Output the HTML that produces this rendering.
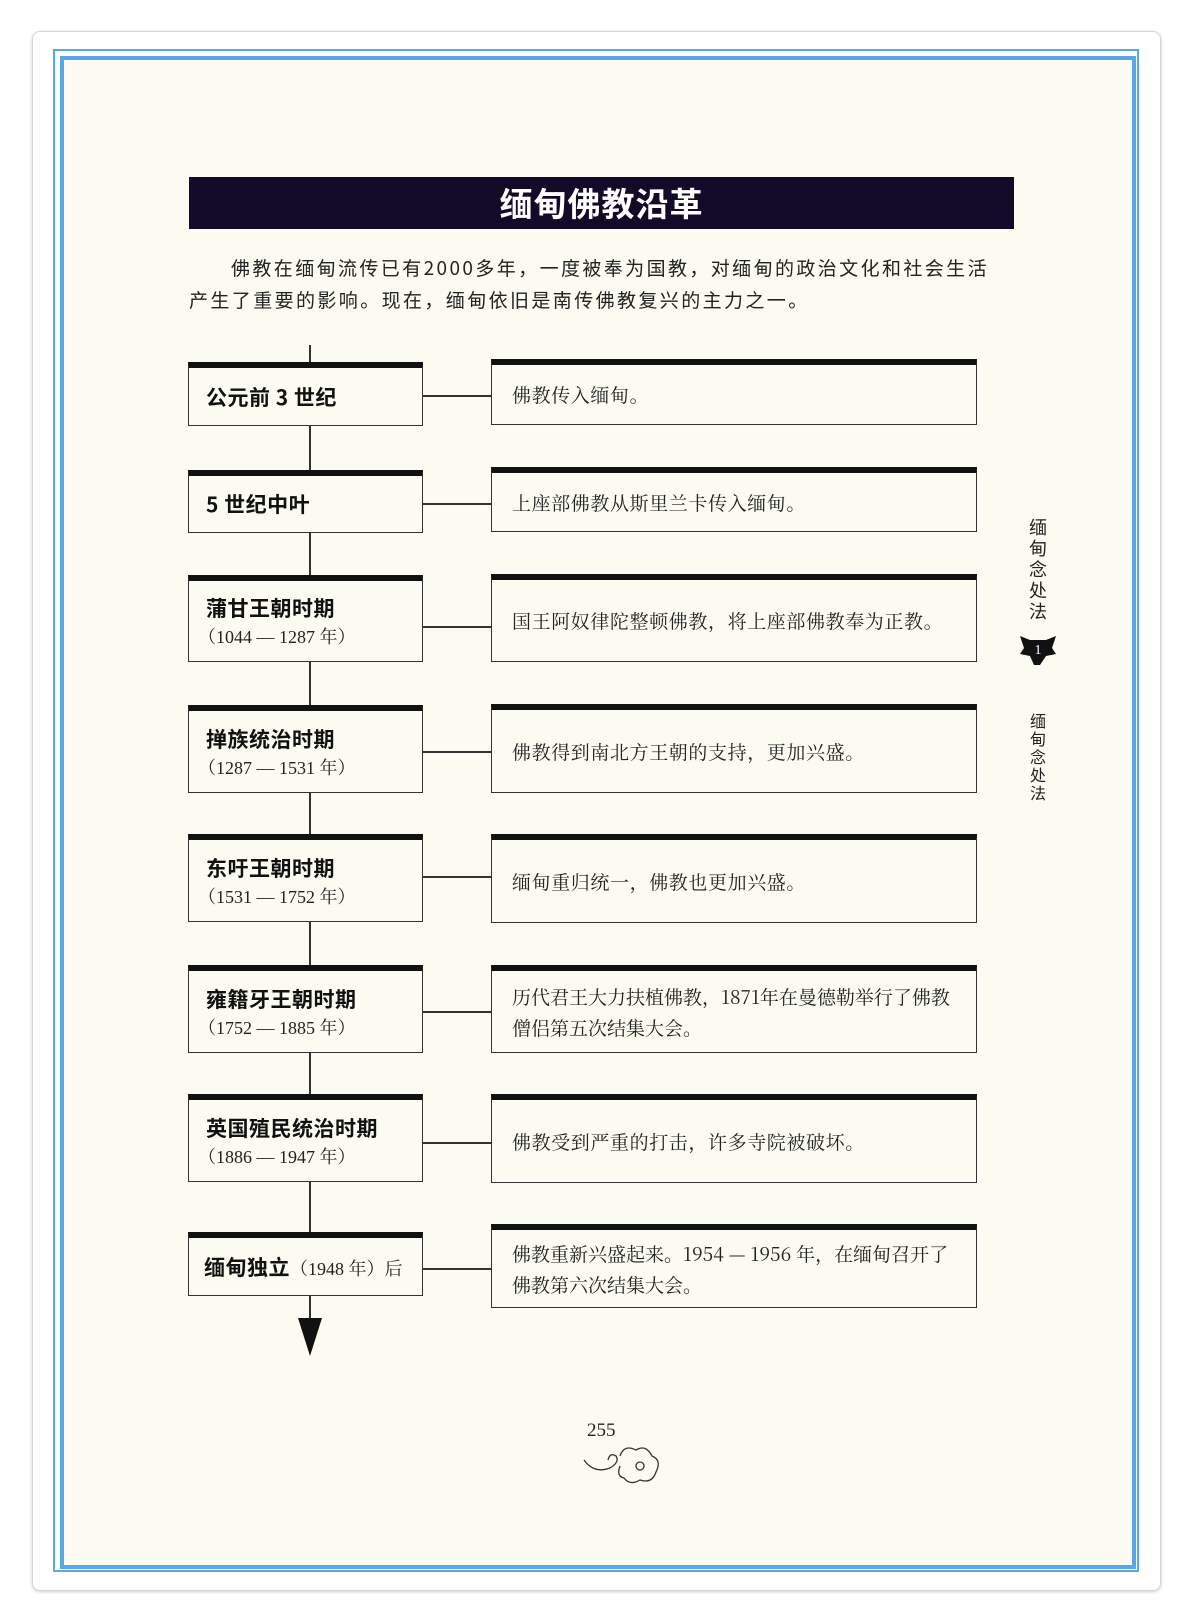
<!DOCTYPE html>
<html><head><meta charset="utf-8"><style>
body{margin:0;width:1188px;height:1622px;background:#fff;position:relative;overflow:hidden;font-family:"Liberation Sans","Noto Sans CJK SC",sans-serif}
.a{position:absolute}
.card{left:32px;top:31px;width:1127px;height:1558px;border:1px solid #d4d4d4;border-radius:8px;box-shadow:0 1px 3px rgba(0,0,0,.2)}
.b1{left:53px;top:49px;width:1082px;height:1519px;border:2px solid #5aa6e6}
.b2{left:60px;top:56px;width:1068px;height:1505px;border:4px solid #5aa6e6;background:#fbfbf1}
.ban{left:189px;top:177px;width:825px;height:52px;background:#120a28;color:#fff;font-weight:bold;font-size:33px;text-align:center;line-height:50px;font-family:"Noto Sans CJK SC",sans-serif;letter-spacing:1px}
.intro{left:189px;width:820px;font-size:19px;color:#222;font-family:"Noto Sans CJK SC",sans-serif;letter-spacing:2.4px;white-space:nowrap}
.L{position:absolute;left:188px;width:235px;border:1.5px solid #333;border-top:6px solid #111;background:#fbfbf1;box-sizing:border-box;padding-left:17px}
.R{position:absolute;left:491px;width:486px;border:1.5px solid #333;border-top:6px solid #111;background:#fbfbf1;box-sizing:border-box;padding-left:20px;font-family:"Noto Serif CJK SC",serif;font-size:19px;letter-spacing:0.6px;color:#222;display:flex;align-items:center;line-height:31px;white-space:nowrap}
.t{font-weight:bold;font-size:21px;letter-spacing:0.5px;color:#111;font-family:"Noto Sans CJK SC",sans-serif}
.d{font-family:"Liberation Serif","Noto Serif CJK SC",serif;font-size:18px;color:#222;margin-left:-8px}
.L.c{display:flex;flex-direction:column;justify-content:center}
.hl{position:absolute;height:1.5px;background:#333;left:423px;width:68px}
.side{left:1028px;width:20px;font-size:18px;line-height:21px;color:#222;text-align:center;font-family:"Noto Sans CJK SC",sans-serif}
</style></head><body>
<div class="a card"></div>
<div class="a b1"></div>
<div class="a b2"></div>
<div class="a ban">缅甸佛教沿革</div>
<div class="a intro" style="top:254px;text-indent:42px">佛教在缅甸流传已有2000多年，一度被奉为国教，对缅甸的政治文化和社会生活</div>
<div class="a intro" style="top:286px">产生了重要的影响。现在，缅甸依旧是南传佛教复兴的主力之一。</div>

<div class="a" style="left:309px;top:345px;width:1.5px;height:975px;background:#333"></div>

<div class="L c" style="top:362px;height:64px"><div class="t">公元前 3 世纪</div></div>
<div class="R" style="top:359px;height:66px">佛教传入缅甸。</div>
<div class="hl" style="top:395px"></div>

<div class="L c" style="top:470px;height:63px"><div class="t">5 世纪中叶</div></div>
<div class="R" style="top:467px;height:65px">上座部佛教从斯里兰卡传入缅甸。</div>
<div class="hl" style="top:503px"></div>

<div class="L c" style="top:575px;height:87px"><div class="t">蒲甘王朝时期</div><div class="d">（1044 — 1287 年）</div></div>
<div class="R" style="top:574px;height:88px">国王阿奴律陀整顿佛教，将上座部佛教奉为正教。</div>
<div class="hl" style="top:626px"></div>

<div class="L c" style="top:705px;height:88px"><div class="t">掸族统治时期</div><div class="d">（1287 — 1531 年）</div></div>
<div class="R" style="top:704px;height:89px">佛教得到南北方王朝的支持，更加兴盛。</div>
<div class="hl" style="top:751px"></div>

<div class="L c" style="top:834px;height:88px"><div class="t">东吁王朝时期</div><div class="d">（1531 — 1752 年）</div></div>
<div class="R" style="top:834px;height:89px">缅甸重归统一，佛教也更加兴盛。</div>
<div class="hl" style="top:876px"></div>

<div class="L c" style="top:965px;height:88px"><div class="t">雍籍牙王朝时期</div><div class="d">（1752 — 1885 年）</div></div>
<div class="R" style="top:965px;height:88px;letter-spacing:0"><div>历代君王大力扶植佛教，1871年在曼德勒举行了佛教<br>僧侣第五次结集大会。</div></div>
<div class="hl" style="top:1011px"></div>

<div class="L c" style="top:1094px;height:88px"><div class="t">英国殖民统治时期</div><div class="d">（1886 — 1947 年）</div></div>
<div class="R" style="top:1094px;height:89px">佛教受到严重的打击，许多寺院被破坏。</div>
<div class="hl" style="top:1142px"></div>

<div class="L c" style="top:1232px;height:64px;padding-left:15px"><div style="white-space:nowrap"><span class="t">缅甸独立</span><span class="d" style="margin-left:0">（1948 年）后</span></div></div>
<div class="R" style="top:1224px;height:84px;letter-spacing:0"><div>佛教重新兴盛起来。1954 — 1956 年，在缅甸召开了<br>佛教第六次结集大会。</div></div>
<div class="hl" style="top:1268px"></div>

<svg class="a" style="left:296px;top:1318px" width="28" height="40"><polygon points="2,0 26,0 14,38" fill="#111"/></svg>

<div class="a side" style="top:517px">缅<br>甸<br>念<br>处<br>法</div>
<svg class="a" style="left:1018px;top:632px" width="40" height="34"><path d="M2,4 L12,8 L28,8 L38,4 L34,16 L38,22 L28,24 L22,33 L16,33 L12,24 L2,22 L6,16 Z" fill="#111"/><text x="20" y="22" fill="#fff" font-size="14" text-anchor="middle" font-family="Liberation Serif">1</text></svg>
<div class="a side" style="top:711px;font-size:16px;line-height:18px">缅<br>甸<br>念<br>处<br>法</div>

<div class="a" style="left:587px;top:1420px;font-family:'Liberation Serif',serif;font-size:19px;color:#222">255</div>
<svg class="a" style="left:580px;top:1440px" width="100" height="50" fill="none" stroke="#333" stroke-width="1.3"><path d="M4,20 Q14,34 30,28 Q40,22 36,16 Q30,12 28,20"/><path d="M40,16 Q44,4 56,10 Q66,4 72,16 Q82,20 76,32 Q72,44 60,40 Q50,46 44,38 Q36,36 40,26"/><circle cx="60" cy="26" r="4"/></svg>
</body></html>
